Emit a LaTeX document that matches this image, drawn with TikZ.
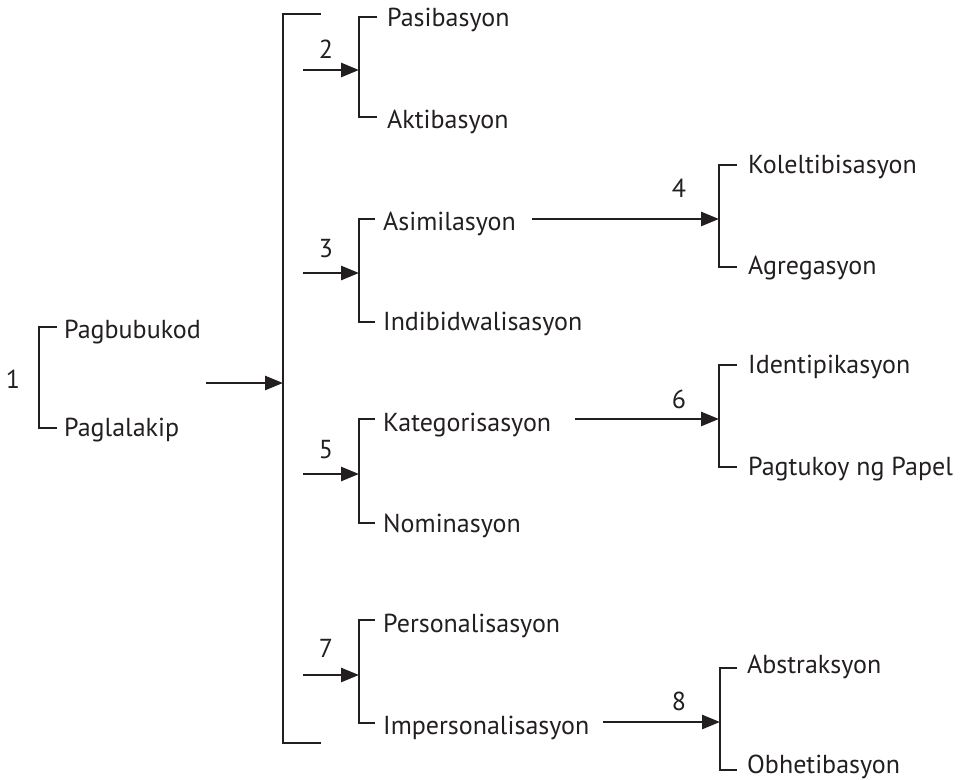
\documentclass[tikz,border=0pt]{standalone}
\usepackage{fontspec}
\setmainfont{PT Sans}
\usetikzlibrary{arrows.meta}
\definecolor{ink}{RGB}{35,31,32}
\tikzset{
  brk/.style={draw=ink, line width=2.7pt},
  arr/.style={draw=ink, line width=2.7pt, -{Triangle[length=18pt,width=14pt]}},
  lbl/.style={anchor=base west, inner sep=0pt, text=ink, font=\fontsize{26}{31}\selectfont},
  num/.style={anchor=base, inner sep=0pt, text=ink, font=\fontsize{26}{31}\selectfont}
}
\begin{document}
\begin{tikzpicture}[x=1pt, y=-1pt]
  \useasboundingbox (0,0) rectangle (961,779);

  \draw[brk] (57,327) -| (39,428) -- (57,428);
  \node[num] (n1) at (13,388) {1};
  \node[lbl] (pagbubukod) at (64,338) {Pagbubukod};
  \node[lbl] (paglalakip) at (64,436) {Paglalakip};

  \draw[brk] (321,14) -| (283,743) -- (321,743);
  \coordinate (a1) at (206,383);
  \coordinate (m1) at (283,383);
  \draw[arr] (a1) -- (m1);

  \draw[brk] (377,17) -| (359,117) -- (377,117);
  \node[num] (n2) at (326,58) {2};
  \node[lbl] (pasibasyon) at (387,27) {Pasibasyon};
  \node[lbl] (aktibasyon) at (387,128) {Aktibasyon};
  \coordinate (a2) at (303,70);
  \coordinate (m2) at (359,70);
  \draw[arr] (a2) -- (m2);

  \draw[brk] (375,219) -| (359,322) -- (375,322);
  \node[num] (n3) at (326,257) {3};
  \node[lbl] (asimilasyon) at (383,230) {Asimilasyon};
  \node[lbl] (indibidwal) at (383,330) {Indibidwalisasyon};
  \coordinate (a3) at (303,273);
  \coordinate (m3) at (359,273);
  \draw[arr] (a3) -- (m3);

  \draw[brk] (375,419) -| (359,523) -- (375,523);
  \node[num] (n5) at (326,458) {5};
  \node[lbl] (kategorisasyon) at (383,431) {Kategorisasyon};
  \node[lbl] (nominasyon) at (383,532) {Nominasyon};
  \coordinate (a5) at (303,474);
  \coordinate (m5) at (359,474);
  \draw[arr] (a5) -- (m5);

  \draw[brk] (375,620) -| (359,723) -- (375,723);
  \node[num] (n7) at (326,657) {7};
  \node[lbl] (personal) at (383,632) {Personalisasyon};
  \node[lbl] (impersonal) at (383,734) {Impersonalisasyon};
  \coordinate (a7) at (303,675);
  \coordinate (m7) at (359,675);
  \draw[arr] (a7) -- (m7);

  \draw[brk] (737,165) -| (719,267) -- (737,267);
  \node[num] (n4) at (679,197) {4};
  \node[lbl] (koleltib) at (748,173) {Koleltibisasyon};
  \node[lbl] (agregasyon) at (748,274) {Agregasyon};
  \coordinate (a4) at (532,219);
  \coordinate (m4) at (719,219);
  \draw[arr] (a4) -- (m4);

  \draw[brk] (737,365) -| (719,467) -- (737,467);
  \node[num] (n6) at (679,408) {6};
  \node[lbl] (identipik) at (748,373) {Identipikasyon};
  \node[lbl] (pagtukoy) at (748,475) {Pagtukoy ng Papel};
  \coordinate (a6) at (575,419);
  \coordinate (m6) at (719,419);
  \draw[arr] (a6) -- (m6);

  \draw[brk] (737,668) -| (720,770) -- (737,770);
  \node[num] (n8) at (679,710) {8};
  \node[lbl] (abstraksyon) at (747,673) {Abstraksyon};
  \node[lbl] (obhetib) at (747,773) {Obhetibasyon};
  \coordinate (a8) at (603,722);
  \coordinate (m8) at (720,722);
  \draw[arr] (a8) -- (m8);
\end{tikzpicture}
\end{document}
